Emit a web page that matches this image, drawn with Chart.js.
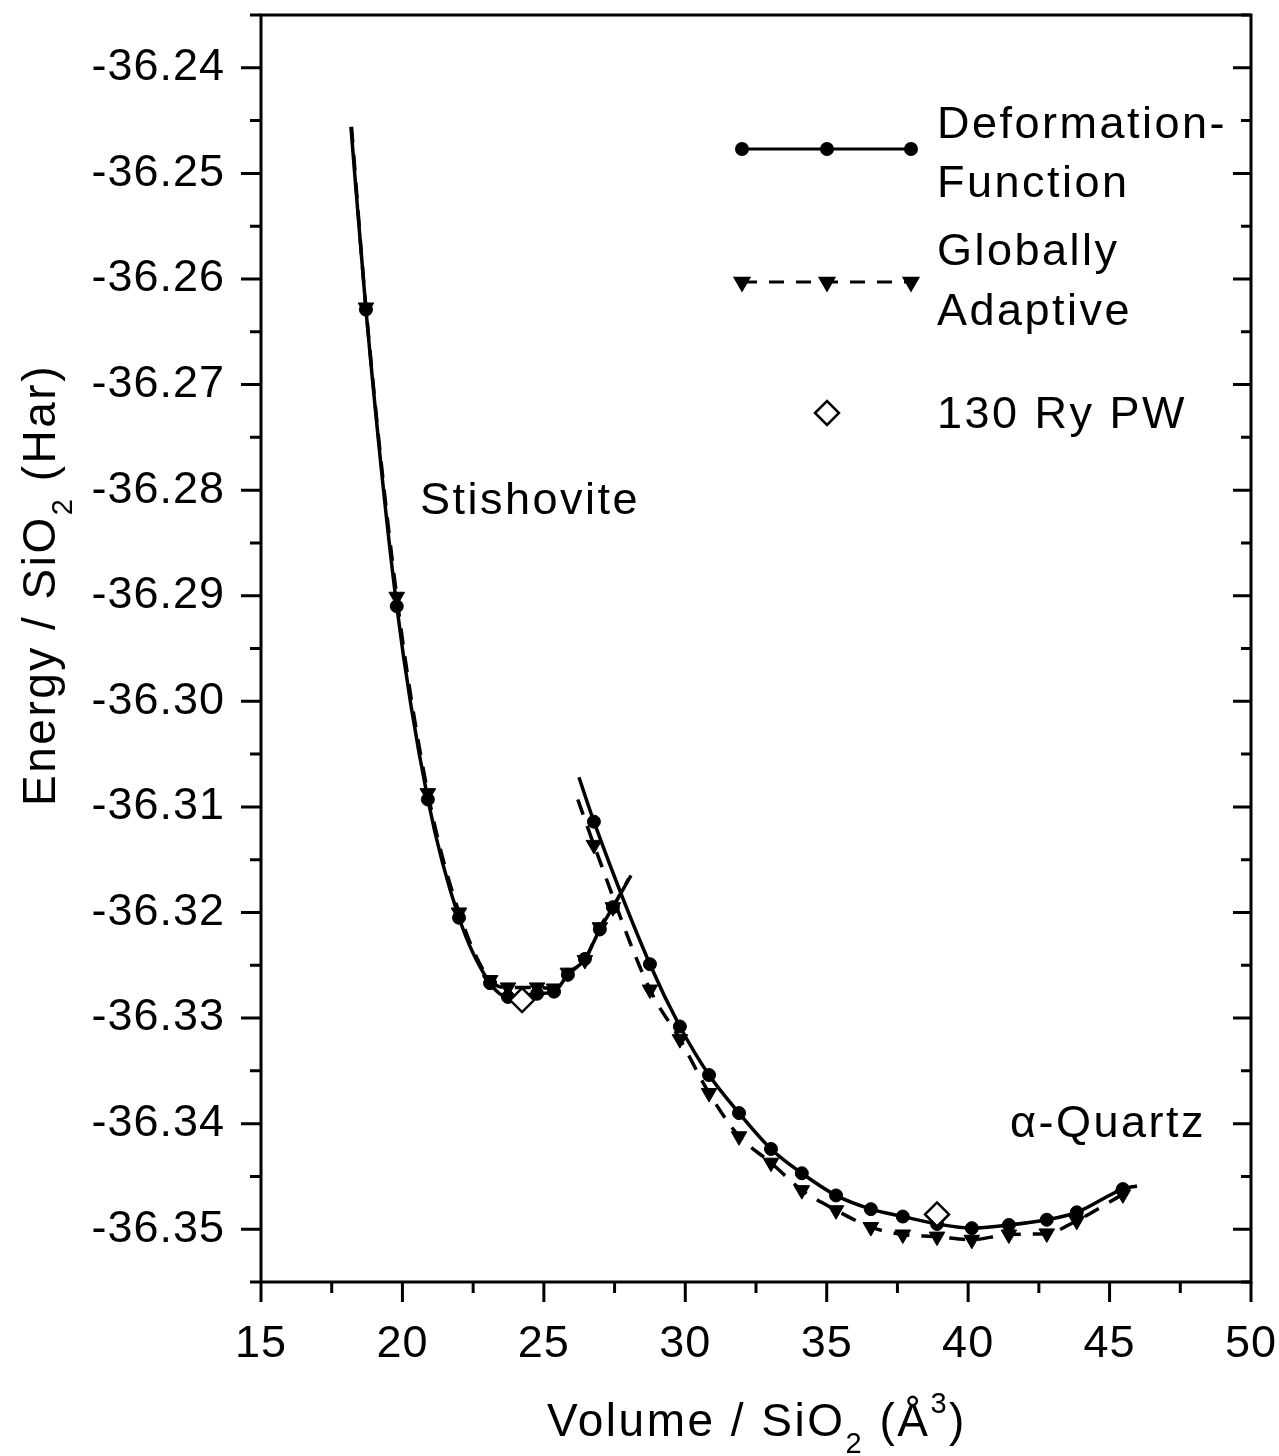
<!DOCTYPE html>
<html>
<head>
<meta charset="utf-8">
<script src="https://cdn.jsdelivr.net/npm/chart.js@4.4.1/dist/chart.umd.min.js"></script>
<style>
  html, body { margin: 0; padding: 0; background: #fff; }
  canvas { display: block; }
</style>
</head>
<body>
<canvas id="eosChart" width="1279" height="1456" style="width:1279px;height:1456px"></canvas>
<script>
// axis ticks
const xTicks = [15, 20, 25, 30, 35, 40, 45, 50];
const yTicks = [-36.35, -36.34, -36.33, -36.32, -36.31, -36.30, -36.29, -36.28, -36.27, -36.26, -36.25, -36.24];

// stishovite branch (volume per SiO2, energy in Hartree)
const stishVol = [18.71, 19.80, 20.90, 22.00, 23.10, 23.73, 24.76, 25.36, 25.85, 26.45, 26.98, 27.44];
const stishDF  = [-36.2629, -36.2910, -36.3093, -36.3205, -36.3267, -36.3280, -36.3277, -36.3275, -36.3259, -36.3244, -36.3216, -36.3195];
const stishGA  = [-36.2627, -36.2901, -36.3087, -36.3200, -36.3264, -36.3271, -36.3271, -36.3272, -36.3257, -36.3245, -36.3214, -36.3195];
// ends of the fitted curves [start, end] as [vol, energy]
const stishDFEnds = [[18.18, -36.2456], [28.08, -36.3165]];
const stishGAEnds = [[18.20, -36.2456], [28.00, -36.3168]];

// alpha-quartz branch
const quartzVol = [26.77, 28.75, 29.81, 30.84, 31.90, 33.03, 34.12, 35.33, 36.56, 37.69, 38.90, 40.13, 41.44, 42.78, 43.84, 45.47];
const quartzDF  = [-36.3114, -36.3249, -36.3308, -36.3354, -36.3390, -36.3424, -36.3447, -36.3468, -36.3481, -36.3488, -36.3495, -36.3499, -36.3496, -36.3491, -36.3484, -36.3462];
const quartzGA  = [-36.3136, -36.3273, -36.3320, -36.3371, -36.3412, -36.3437, -36.3463, -36.3482, -36.3498, -36.3505, -36.3507, -36.3510, -36.3505, -36.3504, -36.3492, -36.3467];
const quartzDFEnds = [[26.24, -36.3072], [45.97, -36.3459]];
const quartzGAEnds = [[26.20, -36.3093], [45.75, -36.3463]];

// 130 Ry plane-wave reference points
const pwVol = [24.23, 38.90];
const pwE   = [-36.3283, -36.3486];

const FONT = '"Liberation Sans", Arial, sans-serif';

function curve(vols, energies, ends) {
    const pts = [{ x: ends[0][0], y: ends[0][1], end: true }];
    vols.forEach((v, i) => pts.push({ x: v, y: energies[i] }));
    pts.push({ x: ends[1][0], y: ends[1][1], end: true });
    return pts;
}

function lineSet(label, data, dashed) {
    return {
        label: label,
        data: data,
        showLine: true,
        fill: false,
        borderColor: '#000',
        backgroundColor: '#000',
        borderWidth: 3.5,
        borderDash: dashed ? [16, 12] : [],
        cubicInterpolationMode: 'monotone',
        pointStyle: dashed ? 'triangle' : 'circle',
        rotation: dashed ? 180 : 0,
        pointRadius: ctx => (ctx.raw && ctx.raw.end) ? 0 : (dashed ? 9 : 6.5),
        pointBorderWidth: 1,
        order: 1
    };
}

// draws a string made of normal / sub / sup pieces, centred on x
function drawRich(ctx, parts, x, y, size) {
    const small = Math.round(size * 0.62);
    let total = 0;
    parts.forEach(p => {
        ctx.font = (p.sub || p.sup ? small : size) + 'px ' + FONT;
        p.w = ctx.measureText(p.t).width;
        total += p.w;
    });
    let cx = x - total / 2;
    parts.forEach(p => {
        ctx.font = (p.sub || p.sup ? small : size) + 'px ' + FONT;
        let dy = 0;
        if (p.sub) dy = size * 0.38;
        if (p.sup) dy = -size * 0.5;
        ctx.fillText(p.t, cx, y + dy);
        cx += p.w;
    });
}

const framePlugin = {
    id: 'frame',
    beforeDraw(chart) {
        chart.ctx.letterSpacing = '1px';
    },
    afterDraw(chart) {
        const ctx = chart.ctx;
        const { left, right, top, bottom } = chart.chartArea;
        const xs = chart.scales.x, ys = chart.scales.y;
        ctx.save();
        ctx.strokeStyle = '#000';
        ctx.fillStyle = '#000';
        ctx.lineWidth = 3;
        ctx.lineCap = 'butt';
        ctx.strokeRect(left, top, right - left, bottom - top);

        // x ticks (outward on bottom)
        for (let v = 15; v <= 50.001; v += 2.5) {
            const px = xs.getPixelForValue(v);
            const major = Math.abs(v % 5) < 1e-6;
            ctx.beginPath();
            ctx.moveTo(px, bottom);
            ctx.lineTo(px, bottom + (major ? 20 : 11));
            ctx.stroke();
        }
        // y ticks (outward on left, inward on right)
        for (let k = 0; k <= 24; k++) {
            const v = -36.355 + k * 0.005;
            const py = ys.getPixelForValue(v);
            const major = k % 2 === 1;
            ctx.beginPath();
            ctx.moveTo(left, py);
            ctx.lineTo(left - (major ? 20 : 11), py);
            ctx.moveTo(right, py);
            ctx.lineTo(right - (major ? 18 : 10), py);
            ctx.stroke();
        }

        ctx.letterSpacing = '2.5px';
        ctx.textBaseline = 'alphabetic';
        ctx.textAlign = 'left';

        // axis titles
        drawRich(ctx, [{ t: 'Volume / SiO' }, { t: '2', sub: true }, { t: ' (Å' }, { t: '3', sup: true }, { t: ')' }],
            (left + right) / 2 + 1, 1436, 46);
        ctx.save();
        ctx.translate(55, 585);
        ctx.rotate(-Math.PI / 2);
        drawRich(ctx, [{ t: 'Energy / SiO' }, { t: '2', sub: true }, { t: ' (Har)' }], 0, 0, 46);
        ctx.restore();

        // phase labels, placed in data space
        ctx.font = '45px ' + FONT;
        ctx.fillText('Stishovite', xs.getPixelForValue(20.62), ys.getPixelForValue(-36.2823));
        ctx.fillText('α-Quartz', xs.getPixelForValue(41.48), ys.getPixelForValue(-36.3413));

        // legend
        const lx0 = 742, lx1 = 911, lxm = 827, tx = 937;
        ctx.fillText('Deformation-', tx, 138);
        ctx.fillText('Function', tx, 197);
        ctx.fillText('Globally', tx, 265);
        ctx.fillText('Adaptive', tx, 325);
        ctx.fillText('130 Ry PW', tx, 428);

        ctx.lineWidth = 3;
        ctx.setLineDash([]);
        ctx.beginPath(); ctx.moveTo(lx0, 149); ctx.lineTo(lx1, 149); ctx.stroke();
        ctx.setLineDash([15, 12]);
        ctx.beginPath(); ctx.moveTo(lx0, 282); ctx.lineTo(lx1, 282); ctx.stroke();
        ctx.setLineDash([]);
        [lx0, lxm, lx1].forEach(px => {
            Chart.helpers.drawPoint(ctx, { pointStyle: 'circle', radius: 5.5, rotation: 0, borderWidth: 1 }, px, 149);
            Chart.helpers.drawPoint(ctx, { pointStyle: 'triangle', radius: 7.5, rotation: 180, borderWidth: 1 }, px, 282);
        });
        ctx.fillStyle = '#fff';
        ctx.lineWidth = 2.5;
        Chart.helpers.drawPoint(ctx, { pointStyle: 'rectRot', radius: 12, rotation: 0, borderWidth: 2.5 }, lxm, 413);
        ctx.restore();
    }
};

new Chart(document.getElementById('eosChart'), {
    type: 'line',
    data: {
        datasets: [
            {
                label: '130 Ry PW',
                data: pwVol.map((v, i) => ({ x: v, y: pwE[i] })),
                showLine: false,
                pointStyle: 'rectRot',
                pointRadius: 12,
                pointBorderWidth: 2.5,
                pointBackgroundColor: '#fff',
                pointBorderColor: '#000',
                order: 0
            },
            lineSet('Deformation-Function (stishovite)', curve(stishVol, stishDF, stishDFEnds), false),
            lineSet('Globally Adaptive (stishovite)', curve(stishVol, stishGA, stishGAEnds), true),
            lineSet('Deformation-Function (quartz)', curve(quartzVol, quartzDF, quartzDFEnds), false),
            lineSet('Globally Adaptive (quartz)', curve(quartzVol, quartzGA, quartzGAEnds), true)
        ]
    },
    options: {
        responsive: false,
        devicePixelRatio: 1,
        animation: false,
        layout: { padding: { top: 15, right: 28, left: 0, bottom: 0 } },
        plugins: {
            legend: { display: false },
            tooltip: { enabled: false }
        },
        scales: {
            x: {
                type: 'linear',
                min: 15,
                max: 50,
                afterBuildTicks: s => { s.ticks = xTicks.map(v => ({ value: v })); },
                afterFit: s => { s.height = 174; s.paddingLeft = 0; s.paddingRight = 0; },
                grid: { display: false, drawTicks: false },
                border: { display: false },
                ticks: {
                    color: '#000',
                    padding: 36,
                    maxRotation: 0,
                    font: { family: FONT, size: 45 },
                    callback: v => String(v)
                }
            },
            y: {
                type: 'linear',
                min: -36.355,
                max: -36.235,
                afterBuildTicks: s => { s.ticks = yTicks.map(v => ({ value: v })); },
                afterFit: s => { s.width = 261; s.paddingTop = 0; s.paddingBottom = 0; },
                grid: { display: false, drawTicks: false },
                border: { display: false },
                ticks: {
                    color: '#000',
                    padding: 36,
                    font: { family: FONT, size: 45 },
                    callback: v => v.toFixed(2)
                }
            }
        }
    },
    plugins: [framePlugin]
});
</script>
</body>
</html>
